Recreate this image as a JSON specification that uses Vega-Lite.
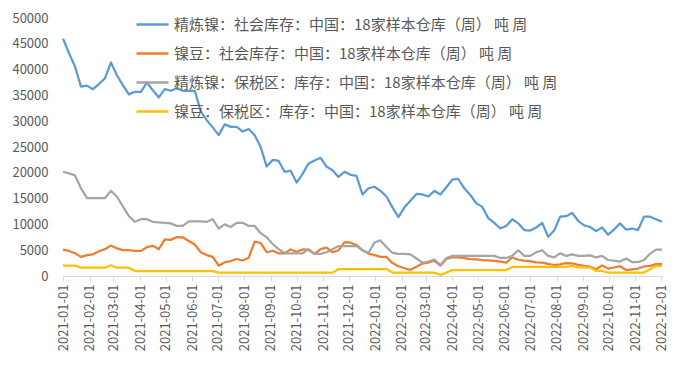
{
"$schema": "https://vega.github.io/schema/vega-lite/v6.json",
"width": 599, "height": 258,
"autosize": {"type": "none"},
"padding": {"left": 63, "top": 18, "right": 18, "bottom": 90},
"background": "white",
"config": {"view": {"stroke": null}, "font": "Noto Sans CJK SC"},
"data": {"values": [
{"d":"2021-01-01","a":46000,"b":5100,"c":20200,"e":2000},
{"d":"2021-01-08","a":43200,"b":4850,"c":19900,"e":2000},
{"d":"2021-01-15","a":40600,"b":4400,"c":19500,"e":2000},
{"d":"2021-01-22","a":36700,"b":3700,"c":17000,"e":1600},
{"d":"2021-01-29","a":36900,"b":4050,"c":15100,"e":1600},
{"d":"2021-02-05","a":36200,"b":4200,"c":15100,"e":1600},
{"d":"2021-02-12","a":37200,"b":4800,"c":15100,"e":1600},
{"d":"2021-02-19","a":38300,"b":5200,"c":15100,"e":1600},
{"d":"2021-02-26","a":41400,"b":5900,"c":16500,"e":2100},
{"d":"2021-03-05","a":38900,"b":5350,"c":15400,"e":1600},
{"d":"2021-03-12","a":37000,"b":5000,"c":13500,"e":1600},
{"d":"2021-03-19","a":35200,"b":5000,"c":11600,"e":1600},
{"d":"2021-03-26","a":35700,"b":4850,"c":10500,"e":950},
{"d":"2021-04-02","a":35700,"b":4850,"c":11000,"e":950},
{"d":"2021-04-09","a":37500,"b":5600,"c":11000,"e":950},
{"d":"2021-04-16","a":36000,"b":5850,"c":10500,"e":950},
{"d":"2021-04-23","a":34600,"b":5200,"c":10400,"e":950},
{"d":"2021-04-30","a":36200,"b":7100,"c":10300,"e":950},
{"d":"2021-05-07","a":35900,"b":7000,"c":10200,"e":950},
{"d":"2021-05-14","a":36400,"b":7550,"c":9700,"e":950},
{"d":"2021-05-21","a":35900,"b":7500,"c":9700,"e":950},
{"d":"2021-05-28","a":35900,"b":6800,"c":10600,"e":950},
{"d":"2021-06-04","a":35900,"b":6100,"c":10600,"e":950},
{"d":"2021-06-11","a":31900,"b":4600,"c":10600,"e":950},
{"d":"2021-06-18","a":30200,"b":4050,"c":10500,"e":950},
{"d":"2021-06-25","a":28800,"b":3700,"c":11000,"e":950},
{"d":"2021-07-02","a":27300,"b":2000,"c":9200,"e":650},
{"d":"2021-07-09","a":29400,"b":2650,"c":10000,"e":650},
{"d":"2021-07-16","a":28900,"b":2900,"c":9500,"e":650},
{"d":"2021-07-23","a":28900,"b":3300,"c":10300,"e":650},
{"d":"2021-07-30","a":28000,"b":3000,"c":10300,"e":650},
{"d":"2021-08-06","a":28500,"b":3550,"c":9700,"e":650},
{"d":"2021-08-13","a":27300,"b":6650,"c":9700,"e":650},
{"d":"2021-08-20","a":25000,"b":6400,"c":8300,"e":650},
{"d":"2021-08-27","a":21200,"b":4600,"c":7500,"e":650},
{"d":"2021-09-03","a":22500,"b":4900,"c":6200,"e":650},
{"d":"2021-09-10","a":22300,"b":4400,"c":5200,"e":650},
{"d":"2021-09-17","a":20200,"b":4400,"c":4400,"e":650},
{"d":"2021-09-24","a":20400,"b":5150,"c":4400,"e":650},
{"d":"2021-10-01","a":18100,"b":4700,"c":4400,"e":650},
{"d":"2021-10-08","a":19800,"b":5150,"c":4400,"e":650},
{"d":"2021-10-15","a":21800,"b":5050,"c":5200,"e":650},
{"d":"2021-10-22","a":22400,"b":4300,"c":4300,"e":650},
{"d":"2021-10-29","a":22900,"b":5200,"c":4300,"e":650},
{"d":"2021-11-05","a":21200,"b":5500,"c":4600,"e":650},
{"d":"2021-11-12","a":20500,"b":4600,"c":5200,"e":650},
{"d":"2021-11-19","a":19200,"b":5000,"c":5800,"e":1350},
{"d":"2021-11-26","a":20200,"b":6550,"c":5800,"e":1350},
{"d":"2021-12-03","a":19600,"b":6450,"c":5800,"e":1350},
{"d":"2021-12-10","a":19400,"b":6000,"c":5800,"e":1350},
{"d":"2021-12-17","a":15800,"b":5000,"c":5000,"e":1350},
{"d":"2021-12-24","a":17000,"b":4350,"c":4500,"e":1350},
{"d":"2021-12-31","a":17300,"b":4050,"c":6500,"e":1350},
{"d":"2022-01-07","a":16500,"b":3700,"c":6900,"e":1350},
{"d":"2022-01-14","a":15400,"b":3700,"c":5600,"e":1350},
{"d":"2022-01-21","a":13300,"b":2500,"c":4500,"e":650},
{"d":"2022-01-28","a":11400,"b":1900,"c":4300,"e":650},
{"d":"2022-02-04","a":13300,"b":1500,"c":4300,"e":650},
{"d":"2022-02-11","a":14600,"b":1200,"c":4200,"e":650},
{"d":"2022-02-18","a":15900,"b":1800,"c":3400,"e":650},
{"d":"2022-02-25","a":15800,"b":2400,"c":2600,"e":650},
{"d":"2022-03-04","a":15400,"b":2600,"c":2800,"e":650},
{"d":"2022-03-11","a":16500,"b":2970,"c":3200,"e":650},
{"d":"2022-03-18","a":15800,"b":2000,"c":2100,"e":200},
{"d":"2022-03-25","a":17200,"b":3300,"c":3500,"e":650},
{"d":"2022-04-01","a":18700,"b":3650,"c":3900,"e":1150},
{"d":"2022-04-08","a":18800,"b":3600,"c":3900,"e":1150},
{"d":"2022-04-15","a":17000,"b":3450,"c":3900,"e":1150},
{"d":"2022-04-22","a":15700,"b":3250,"c":3900,"e":1150},
{"d":"2022-04-29","a":14100,"b":3200,"c":3900,"e":1150},
{"d":"2022-05-06","a":13400,"b":3100,"c":3900,"e":1150},
{"d":"2022-05-13","a":11200,"b":3050,"c":3900,"e":1150},
{"d":"2022-05-20","a":10300,"b":2950,"c":3900,"e":1150},
{"d":"2022-05-27","a":9200,"b":2800,"c":3500,"e":1150},
{"d":"2022-06-03","a":9700,"b":2600,"c":3500,"e":1150},
{"d":"2022-06-10","a":11000,"b":3600,"c":3900,"e":1750},
{"d":"2022-06-17","a":10200,"b":3150,"c":5000,"e":1750},
{"d":"2022-06-24","a":8900,"b":3000,"c":3900,"e":1750},
{"d":"2022-07-01","a":8800,"b":2900,"c":3900,"e":1750},
{"d":"2022-07-08","a":9400,"b":2650,"c":4600,"e":1750},
{"d":"2022-07-15","a":10300,"b":2600,"c":5000,"e":1750},
{"d":"2022-07-22","a":7600,"b":2350,"c":3900,"e":1750},
{"d":"2022-07-29","a":8800,"b":2130,"c":3600,"e":1750},
{"d":"2022-08-05","a":11500,"b":2250,"c":4400,"e":1750},
{"d":"2022-08-12","a":11600,"b":2500,"c":3900,"e":1750},
{"d":"2022-08-19","a":12200,"b":2450,"c":4200,"e":2000},
{"d":"2022-08-26","a":10700,"b":2150,"c":3900,"e":1650},
{"d":"2022-09-02","a":9800,"b":1950,"c":3900,"e":1650},
{"d":"2022-09-09","a":9500,"b":1800,"c":4000,"e":1650},
{"d":"2022-09-16","a":8700,"b":1300,"c":3600,"e":1000},
{"d":"2022-09-23","a":9400,"b":2050,"c":3900,"e":1000},
{"d":"2022-09-30","a":8000,"b":1450,"c":3100,"e":650},
{"d":"2022-10-07","a":9000,"b":1650,"c":3000,"e":650},
{"d":"2022-10-14","a":10200,"b":1900,"c":2800,"e":650},
{"d":"2022-10-21","a":9000,"b":1150,"c":3400,"e":650},
{"d":"2022-10-28","a":9200,"b":1300,"c":2700,"e":650},
{"d":"2022-11-04","a":8900,"b":1450,"c":2700,"e":650},
{"d":"2022-11-11","a":11500,"b":1850,"c":3100,"e":650},
{"d":"2022-11-18","a":11500,"b":1950,"c":4300,"e":1300},
{"d":"2022-11-25","a":11000,"b":2300,"c":5100,"e":1950},
{"d":"2022-12-02","a":10500,"b":2300,"c":5100,"e":1950}
]},
"transform": [{"fold": ["a", "b", "c", "e"], "as": ["series", "value"]}],
"mark": {"type": "line", "strokeWidth": 2.25, "strokeJoin": "round"},
"encoding": {
  "x": {"field": "d", "type": "temporal",
    "scale": {"domain": [{"year": 2021, "month": 1, "date": 1, "utc": true}, {"year": 2022, "month": 12, "date": 2, "utc": true}]},
    "axis": {"format": "%Y-%m-%d", "labelAngle": 270, "labelAlign": "right", "labelBaseline": "middle",
      "labelPadding": 3, "tickCount": {"interval": "month", "step": 1}, "tickSize": 5, "tickColor": "#D9D9D9",
      "domainColor": "#D9D9D9", "labelColor": "#595959", "labelFontSize": 13, "grid": false, "title": null,
      "labelOverlap": false, "labelFlush": false, "labelBound": false}},
  "y": {"field": "value", "type": "quantitative",
    "scale": {"domain": [0, 50000], "nice": false},
    "axis": {"values": [0, 5000, 10000, 15000, 20000, 25000, 30000, 35000, 40000, 45000, 50000],
      "domain": false, "ticks": false, "grid": false, "labelColor": "#595959", "labelFontSize": 13,
      "labelPadding": 15, "title": null, "format": "d"}},
  "color": {"field": "series", "type": "nominal",
    "scale": {"domain": ["a", "b", "c", "e"], "range": ["#5B9BD5", "#ED7D31", "#A5A5A5", "#FFC000"]},
    "legend": {"orient": "none", "legendX": 72, "legendY": -11, "title": null, "symbolType": "stroke",
      "symbolSize": 1024, "symbolStrokeWidth": 2.5, "labelFontSize": 15, "labelColor": "#595959",
      "labelLimit": 600, "labelOffset": 4, "rowPadding": 3,
      "labelExpr": "{'a':'精炼镍：社会库存：中国：18家样本仓库（周） 吨 周','b':'镍豆：社会库存：中国：18家样本仓库（周） 吨 周','c':'精炼镍：保税区：库存：中国：18家样本仓库（周） 吨 周','e':'镍豆：保税区：库存：中国：18家样本仓库（周） 吨 周'}[datum.value]"}}
}
}
